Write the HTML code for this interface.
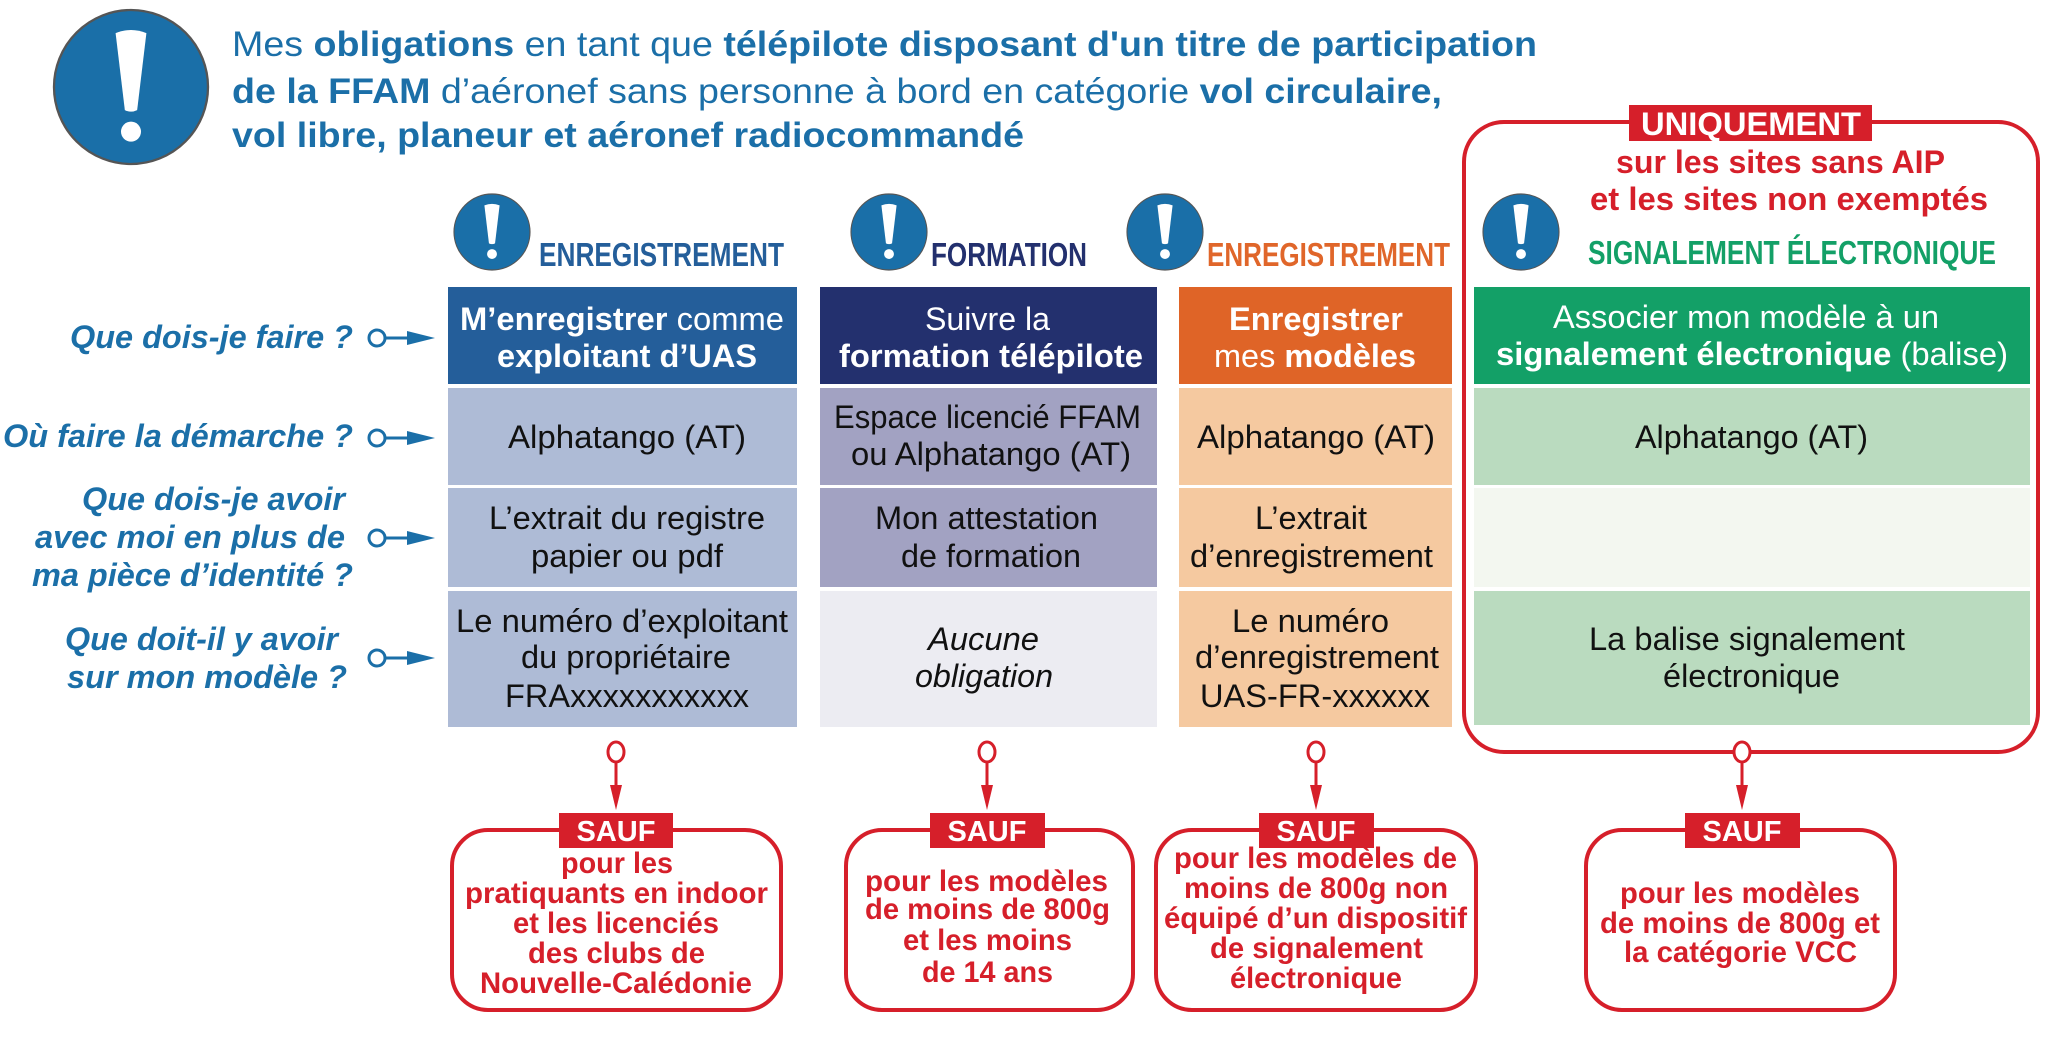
<!DOCTYPE html>
<html><head><meta charset="utf-8"><style>
html,body{margin:0;padding:0;background:#fff;}
svg{display:block;}
text{font-family:"Liberation Sans",sans-serif;}
</style></head><body>
<svg width="2048" height="1039" viewBox="0 0 2048 1039" xmlns="http://www.w3.org/2000/svg">
<defs>
<g id="ic">
<circle cx="0" cy="0" r="1" fill="#1a6fa8" stroke="#555" stroke-width="0.03"/>
<path d="M-0.2,-0.7 Q0,-0.78 0.2,-0.7 L0.08,0.3 Q0,0.34 -0.08,0.3 Z" fill="#fff"/>
<circle cx="0" cy="0.58" r="0.13" fill="#fff"/>
</g>
</defs>

<use href="#ic" transform="translate(131,87) scale(77)"/>

<g fill="#1b6fa8" font-size="35">
<text x="232" y="56" textLength="1305" lengthAdjust="spacingAndGlyphs">Mes <tspan font-weight="bold">obligations</tspan> en tant que <tspan font-weight="bold">télépilote disposant d'un titre de participation</tspan></text>
<text x="232" y="103" textLength="1210" lengthAdjust="spacingAndGlyphs"><tspan font-weight="bold">de la FFAM</tspan> d’aéronef sans personne à bord en catégorie <tspan font-weight="bold">vol circulaire,</tspan></text>
<text x="232" y="147" textLength="792" lengthAdjust="spacingAndGlyphs" font-weight="bold">vol libre, planeur et aéronef radiocommandé</text>
</g>

<rect x="1464" y="122" width="574" height="630" rx="40" fill="none" stroke="#d61f2a" stroke-width="4"/>
<rect x="1629" y="105" width="243" height="36" fill="#d61f2a"/>
<text x="1641" y="135" font-size="32" font-weight="bold" fill="#fff" textLength="220" lengthAdjust="spacingAndGlyphs">UNIQUEMENT</text>
<g fill="#d61f2a" font-size="32" font-weight="bold">
<text x="1616" y="173" textLength="329" lengthAdjust="spacingAndGlyphs">sur les sites sans AIP</text>
<text x="1590" y="210" textLength="398" lengthAdjust="spacingAndGlyphs">et les sites non exemptés</text>
</g>

<use href="#ic" transform="translate(492,232) scale(38)"/>
<use href="#ic" transform="translate(889,232) scale(38)"/>
<use href="#ic" transform="translate(1165,232) scale(38)"/>
<use href="#ic" transform="translate(1521,232) scale(38)"/>
<g font-size="33" font-weight="bold">
<text x="539" y="266" fill="#245e9a" textLength="245" lengthAdjust="spacingAndGlyphs">ENREGISTREMENT</text>
<text x="931" y="266" fill="#23306e" textLength="156" lengthAdjust="spacingAndGlyphs">FORMATION</text>
<text x="1207" y="266" fill="#e0662a" textLength="243" lengthAdjust="spacingAndGlyphs">ENREGISTREMENT</text>
<text x="1588" y="264" fill="#13a067" textLength="408" lengthAdjust="spacingAndGlyphs">SIGNALEMENT ÉLECTRONIQUE</text>
</g>

<rect x="448" y="287" width="349" height="97" fill="#245e9a"/>
<rect x="448" y="388" width="349" height="97" fill="#aebbd6"/>
<rect x="448" y="488" width="349" height="99" fill="#aebbd6"/>
<rect x="448" y="591" width="349" height="136" fill="#aebbd6"/>

<rect x="820" y="287" width="337" height="97" fill="#23306e"/>
<rect x="820" y="388" width="337" height="97" fill="#a2a2c2"/>
<rect x="820" y="488" width="337" height="99" fill="#a2a2c2"/>
<rect x="820" y="591" width="337" height="136" fill="#ececf2"/>

<rect x="1179" y="287" width="273" height="97" fill="#df6427"/>
<rect x="1179" y="388" width="273" height="97" fill="#f5c9a0"/>
<rect x="1179" y="488" width="273" height="99" fill="#f5c9a0"/>
<rect x="1179" y="591" width="273" height="136" fill="#f5c9a0"/>

<rect x="1474" y="287" width="556" height="97" fill="#13a067"/>
<rect x="1474" y="388" width="556" height="97" fill="#badbbf"/>
<rect x="1474" y="488" width="556" height="99" fill="#f3f7f0"/>
<rect x="1474" y="591" width="556" height="134" fill="#badbbf"/>

<g font-size="32" fill="#fff">
<text x="460" y="330" textLength="324" lengthAdjust="spacingAndGlyphs"><tspan font-weight="bold">M’enregistrer</tspan> comme</text>
<text x="497" y="367" textLength="260" lengthAdjust="spacingAndGlyphs" font-weight="bold">exploitant d’UAS</text>
<text x="925" y="330" textLength="125" lengthAdjust="spacingAndGlyphs">Suivre la</text>
<text x="839" y="367" textLength="304" lengthAdjust="spacingAndGlyphs" font-weight="bold">formation télépilote</text>
<text x="1229" y="330" textLength="174" lengthAdjust="spacingAndGlyphs" font-weight="bold">Enregistrer</text>
<text x="1214" y="367" textLength="202" lengthAdjust="spacingAndGlyphs">mes <tspan font-weight="bold">modèles</tspan></text>
<text x="1553" y="328" textLength="386" lengthAdjust="spacingAndGlyphs">Associer mon modèle à un</text>
<text x="1496" y="365" textLength="512" lengthAdjust="spacingAndGlyphs"><tspan font-weight="bold">signalement électronique</tspan> (balise)</text>
</g>
<g font-size="32" fill="#111">
<text x="508" y="448" textLength="238" lengthAdjust="spacingAndGlyphs">Alphatango (AT)</text>
<text x="834" y="428" textLength="307" lengthAdjust="spacingAndGlyphs">Espace licencié FFAM</text>
<text x="851" y="465" textLength="280" lengthAdjust="spacingAndGlyphs">ou Alphatango (AT)</text>
<text x="1197" y="448" textLength="238" lengthAdjust="spacingAndGlyphs">Alphatango (AT)</text>
<text x="1635" y="448" textLength="233" lengthAdjust="spacingAndGlyphs">Alphatango (AT)</text>

<text x="489" y="529" textLength="276" lengthAdjust="spacingAndGlyphs">L’extrait du registre</text>
<text x="531" y="567" textLength="192" lengthAdjust="spacingAndGlyphs">papier ou pdf</text>
<text x="875" y="529" textLength="223" lengthAdjust="spacingAndGlyphs">Mon attestation</text>
<text x="901" y="567" textLength="180" lengthAdjust="spacingAndGlyphs">de formation</text>
<text x="1255" y="529" textLength="112" lengthAdjust="spacingAndGlyphs">L’extrait</text>
<text x="1190" y="567" textLength="243" lengthAdjust="spacingAndGlyphs">d’enregistrement</text>

<text x="456" y="632" textLength="332" lengthAdjust="spacingAndGlyphs">Le numéro d’exploitant</text>
<text x="521" y="668" textLength="210" lengthAdjust="spacingAndGlyphs">du propriétaire</text>
<text x="505" y="707" textLength="244" lengthAdjust="spacingAndGlyphs">FRAxxxxxxxxxxx</text>
<text x="928" y="650" textLength="111" lengthAdjust="spacingAndGlyphs" font-style="italic">Aucune</text>
<text x="915" y="687" textLength="138" lengthAdjust="spacingAndGlyphs" font-style="italic">obligation</text>
<text x="1232" y="632" textLength="157" lengthAdjust="spacingAndGlyphs">Le numéro</text>
<text x="1195" y="668" textLength="244" lengthAdjust="spacingAndGlyphs">d’enregistrement</text>
<text x="1200" y="707" textLength="230" lengthAdjust="spacingAndGlyphs">UAS-FR-xxxxxx</text>
<text x="1589" y="650" textLength="316" lengthAdjust="spacingAndGlyphs">La balise signalement</text>
<text x="1663" y="687" textLength="177" lengthAdjust="spacingAndGlyphs">électronique</text>
</g>

<g font-size="32" font-weight="bold" font-style="italic" fill="#1b6fa8">
<text x="70" y="348" textLength="283" lengthAdjust="spacingAndGlyphs">Que dois-je faire ?</text>
<text x="3" y="447" textLength="350" lengthAdjust="spacingAndGlyphs">Où faire la démarche ?</text>
<text x="82" y="510" textLength="263" lengthAdjust="spacingAndGlyphs">Que dois-je avoir</text>
<text x="35" y="548" textLength="310" lengthAdjust="spacingAndGlyphs">avec moi en plus de</text>
<text x="32" y="586" textLength="321" lengthAdjust="spacingAndGlyphs">ma pièce d’identité ?</text>
<text x="65" y="650" textLength="273" lengthAdjust="spacingAndGlyphs">Que doit-il y avoir</text>
<text x="67" y="688" textLength="280" lengthAdjust="spacingAndGlyphs">sur mon modèle ?</text>
</g>
<g stroke="#1b6fa8" stroke-width="3" fill="#fff">
<circle cx="377" cy="338" r="8"/><line x1="385" y1="338" x2="412" y2="338"/>
<circle cx="377" cy="438" r="8"/><line x1="385" y1="438" x2="412" y2="438"/>
<circle cx="377" cy="538" r="8"/><line x1="385" y1="538" x2="412" y2="538"/>
<circle cx="377" cy="658" r="8"/><line x1="385" y1="658" x2="412" y2="658"/>
</g>
<g fill="#1b6fa8">
<polygon points="407,331 435,338 407,345"/>
<polygon points="407,431 435,438 407,445"/>
<polygon points="407,531 435,538 407,545"/>
<polygon points="407,651 435,658 407,665"/>
</g>

<g stroke="#d61f2a" stroke-width="3" fill="#fff">
<line x1="616" y1="762" x2="616" y2="790"/><ellipse cx="616" cy="752" rx="8" ry="10"/>
<line x1="987" y1="762" x2="987" y2="790"/><ellipse cx="987" cy="752" rx="8" ry="10"/>
<line x1="1316" y1="762" x2="1316" y2="790"/><ellipse cx="1316" cy="752" rx="8" ry="10"/>
<line x1="1742" y1="762" x2="1742" y2="790"/><ellipse cx="1742" cy="752" rx="8" ry="10"/>
</g>
<g fill="#d61f2a">
<polygon points="610,785 622,785 616,810"/>
<polygon points="981,785 993,785 987,810"/>
<polygon points="1310,785 1322,785 1316,810"/>
<polygon points="1736,785 1748,785 1742,810"/>
</g>

<g fill="none" stroke="#d61f2a" stroke-width="4">
<rect x="452" y="830" width="329" height="180" rx="36"/>
<rect x="846" y="830" width="287" height="180" rx="36"/>
<rect x="1156" y="830" width="320" height="180" rx="36"/>
<rect x="1586" y="830" width="309" height="180" rx="36"/>
</g>
<g fill="#d61f2a">
<rect x="559" y="813" width="114" height="35"/>
<rect x="930" y="813" width="115" height="35"/>
<rect x="1259" y="813" width="115" height="35"/>
<rect x="1685" y="813" width="115" height="35"/>
</g>
<g fill="#fff" font-size="29" font-weight="bold" text-anchor="middle">
<text x="616" y="841">SAUF</text>
<text x="987" y="841">SAUF</text>
<text x="1316" y="841">SAUF</text>
<text x="1742" y="841">SAUF</text>
</g>
<g fill="#d61f2a" font-size="30" font-weight="bold">
<text x="561" y="873" textLength="112" lengthAdjust="spacingAndGlyphs">pour les</text>
<text x="465" y="903" textLength="303" lengthAdjust="spacingAndGlyphs">pratiquants en indoor</text>
<text x="513" y="933" textLength="206" lengthAdjust="spacingAndGlyphs">et les licenciés</text>
<text x="528" y="963" textLength="177" lengthAdjust="spacingAndGlyphs">des clubs de</text>
<text x="480" y="993" textLength="272" lengthAdjust="spacingAndGlyphs">Nouvelle-Calédonie</text>

<text x="865" y="891" textLength="243" lengthAdjust="spacingAndGlyphs">pour les modèles</text>
<text x="865" y="919" textLength="245" lengthAdjust="spacingAndGlyphs">de moins de 800g</text>
<text x="903" y="950" textLength="169" lengthAdjust="spacingAndGlyphs">et les moins</text>
<text x="922" y="982" textLength="131" lengthAdjust="spacingAndGlyphs">de 14 ans</text>

<text x="1174" y="868" textLength="283" lengthAdjust="spacingAndGlyphs">pour les modèles de</text>
<text x="1184" y="898" textLength="264" lengthAdjust="spacingAndGlyphs">moins de 800g non</text>
<text x="1164" y="928" textLength="303" lengthAdjust="spacingAndGlyphs">équipé d’un dispositif</text>
<text x="1210" y="958" textLength="213" lengthAdjust="spacingAndGlyphs">de signalement</text>
<text x="1230" y="988" textLength="172" lengthAdjust="spacingAndGlyphs">électronique</text>

<text x="1620" y="903" textLength="240" lengthAdjust="spacingAndGlyphs">pour les modèles</text>
<text x="1600" y="933" textLength="280" lengthAdjust="spacingAndGlyphs">de moins de 800g et</text>
<text x="1624" y="962" textLength="233" lengthAdjust="spacingAndGlyphs">la catégorie VCC</text>
</g>
</svg>
</body></html>
